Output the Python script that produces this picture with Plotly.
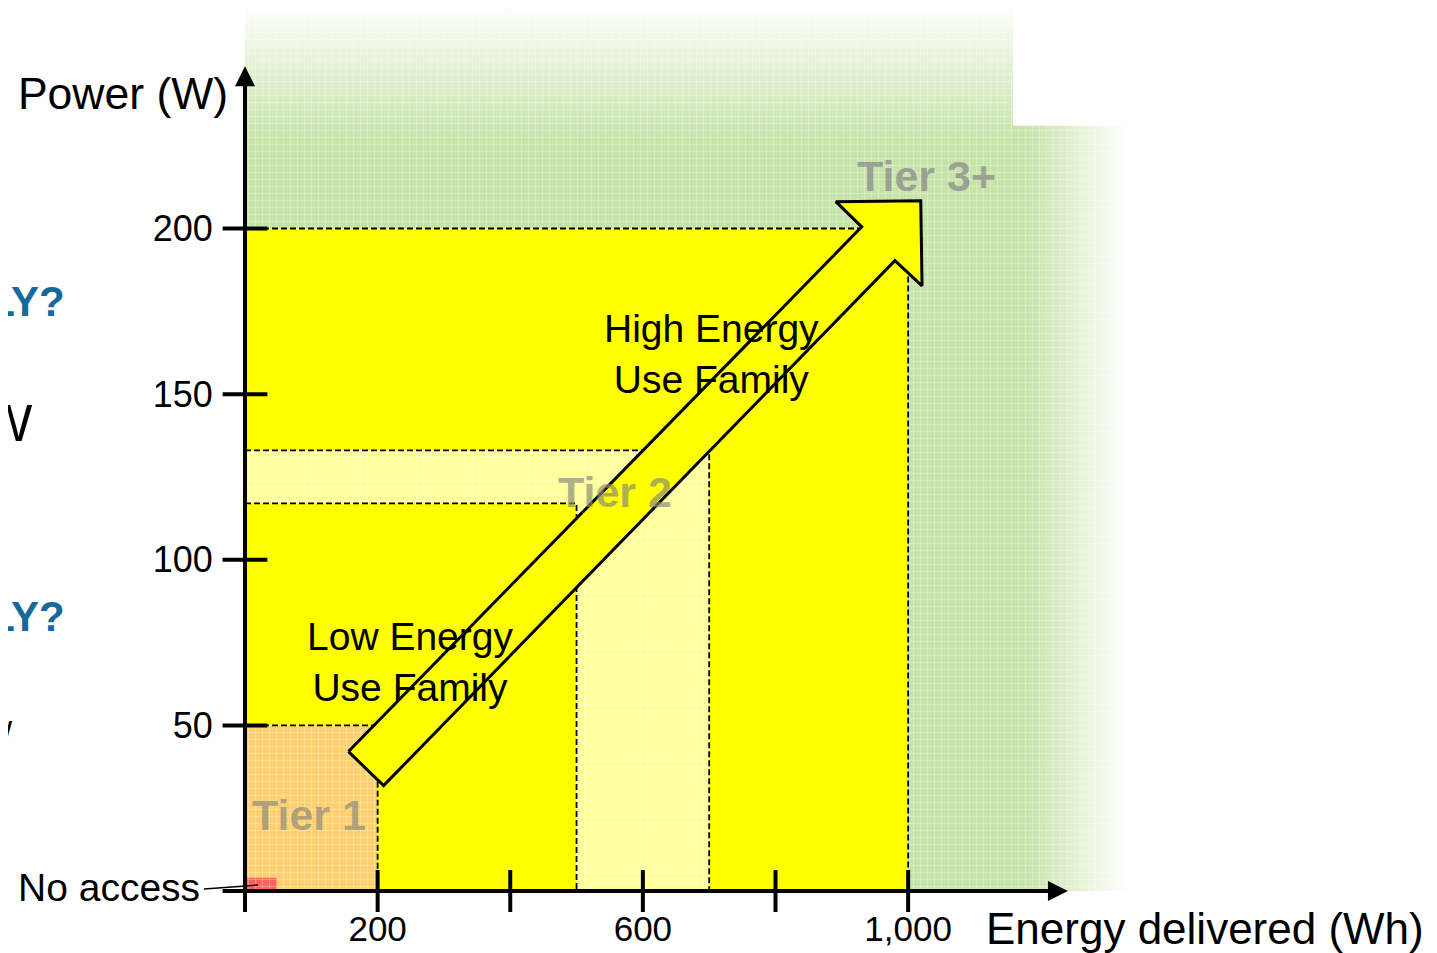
import plotly.graph_objects as go

# ---------------- data ----------------
x_tick_vals = [0, 200, 400, 600, 800, 1000]
x_label_vals = [200, 600, 1000]
x_label_text = ["200", "600", "1,000"]
y_tick_vals = [0, 50, 100, 150, 200]
y_label_vals = [50, 100, 150, 200]
y_label_text = ["50", "100", "150", "200"]

# tier boundaries (energy Wh, power W)
no_access = [48, 4]
tier1 = [200, 50]
tier2_energy = [500, 700]
tier2_power = [117, 133]
tier3 = [1000, 200]
green_extent = [1345, 1158, 231, 268]   # x_max, step x, step y, y_max

# block arrow outline (Wh, W)
arrow_x = [156, 930, 891, 1019, 1021, 980, 209]
arrow_y = [42.1, 200.5, 208.1, 208.4, 182.7, 190.3, 31.8]

FONT = "Liberation Sans, Arial, sans-serif"
X_PER_PX = 1.508
Y_PER_PX = 0.30189
# page offset of the figure inside the browser body
OFF = 8
ML, MB, W, H = 237, 70, 1437, 953
PW, PH = W - ML, H - MB


def paper_x(vx):
    return (vx - OFF - ML) / PW


def paper_y(vy):
    return (H - MB - (vy - OFF)) / PH


def texture(bg):
    return dict(shape="+", fgcolor="white", bgcolor=bg, size=7, solidity=0.14, fgopacity=0.55)


fig = go.Figure()

# green tier 3+ area
gx, gs, gsy, gy = green_extent
fig.add_trace(go.Scatter(
    x=[0, gx, gx, gs, gs, 0, 0], y=[0, 0, gsy, gsy, gy, gy, 0],
    fill="toself", fillcolor="#c6e3a8", fillpattern=texture("#c6e3a8"),
    mode="none", hoverinfo="skip"))
# fades to white
fig.add_trace(go.Scatter(
    x=[0, gs, gs, 0, 0], y=[gsy - 6, gsy - 6, gy + 1, gy + 1, gsy - 6],
    fill="toself", mode="none", hoverinfo="skip",
    fillgradient=dict(type="vertical", start=gsy - 6, stop=gy,
                      colorscale=[[0, "rgba(255,255,255,0)"], [0.6, "rgba(255,255,255,0.55)"],
                                  [1, "rgba(255,255,255,1)"]])))
fig.add_trace(go.Scatter(
    x=[1175, gx + 1, gx + 1, 1175, 1175], y=[0, 0, gsy + 1, gsy + 1, 0],
    fill="toself", mode="none", hoverinfo="skip",
    fillgradient=dict(type="horizontal", start=1175, stop=gx - 15,
                      colorscale=[[0, "rgba(255,255,255,0)"], [1, "rgba(255,255,255,1)"]])))

# yellow up to 1000 Wh / 200 W
fig.add_trace(go.Scatter(
    x=[0, tier3[0], tier3[0], 0, 0], y=[0, 0, tier3[1], tier3[1], 0],
    fill="toself", fillcolor="#ffff00", mode="none", hoverinfo="skip"))
# tier 2 pale band
e0, e1 = tier2_energy
p0, p1 = tier2_power
fig.add_trace(go.Scatter(
    x=[0, 0, e1, e1, e0, e0, 0], y=[p0, p1, p1, 0, 0, p0, p0],
    fill="toself", fillcolor="#ffff9c", fillpattern=texture("#ffff9c"),
    mode="none", hoverinfo="skip"))
# tier 1
fig.add_trace(go.Scatter(
    x=[0, tier1[0], tier1[0], 0, 0], y=[0, 0, tier1[1], tier1[1], 0],
    fill="toself", fillcolor="#ffd070", fillpattern=texture("#ffd070"),
    mode="none", hoverinfo="skip"))
# no access
fig.add_trace(go.Scatter(
    x=[0, no_access[0], no_access[0], 0, 0], y=[0, 0, no_access[1], no_access[1], 0],
    fill="toself", fillcolor="#ff6060", fillpattern=texture("#ff6060"),
    mode="none", hoverinfo="skip"))

# dashed boundaries
dash_style = dict(color="black", width=1.8, dash="6px,3px")
for xs, ys in [
    ([0, tier1[0], tier1[0]], [tier1[1], tier1[1], 0]),
    ([0, e0, e0], [p0, p0, 0]),
    ([0, e1, e1], [p1, p1, 0]),
    ([0, tier3[0], tier3[0]], [tier3[1], tier3[1], 0]),
]:
    fig.add_trace(go.Scatter(x=xs, y=ys, mode="lines", line=dash_style, hoverinfo="skip"))

# block arrow
fig.add_trace(go.Scatter(
    x=arrow_x + [arrow_x[0]], y=arrow_y + [arrow_y[0]],
    fill="toself", fillcolor="#ffff00", mode="lines",
    line=dict(color="black", width=3), hoverinfo="skip"))

# tick marks crossing the axes
fig.add_trace(go.Scatter(
    x=[0] * len(y_tick_vals), y=y_tick_vals, mode="markers", cliponaxis=False,
    marker=dict(symbol="line-ew", size=32, line=dict(color="black", width=4)),
    hoverinfo="skip"))
fig.add_trace(go.Scatter(
    x=x_tick_vals, y=[0] * len(x_tick_vals), mode="markers", cliponaxis=False,
    marker=dict(symbol="line-ns", size=30, line=dict(color="black", width=4)),
    hoverinfo="skip"))

ann = []
# axes with arrow heads
ann.append(dict(x=0, y=249, ax=0, ay=0, xref="x", yref="y", axref="x", ayref="y",
                text="", showarrow=True, arrowhead=2, arrowwidth=4, arrowsize=1,
                arrowcolor="black", standoff=0, startstandoff=0))
ann.append(dict(x=1241, y=0, ax=0, ay=0, xref="x", yref="y", axref="x", ayref="y",
                text="", showarrow=True, arrowhead=2, arrowwidth=4, arrowsize=1,
                arrowcolor="black", standoff=0, startstandoff=0))


def txt(x, y, t, size, color="black", bold=False, xanchor="center", ref="x"):
    if bold:
        t = "<b>" + t + "</b>"
    if ref == "paper":
        xr, yr = "paper", "paper"
    else:
        xr, yr = "x", "y"
    ann.append(dict(x=x, y=y, xref=xr, yref=yr, text=t, showarrow=False,
                    font=dict(family=FONT, size=size, color=color),
                    xanchor=xanchor, yanchor="middle", borderpad=0))


tier_col = "rgba(140,140,120,0.7)"
txt(96, 23, "Tier 1", 43, tier_col, bold=True)
txt(558, 120.5, "Tier 2", 43, tier_col, bold=True)
txt(1028, 216, "Tier 3+", 43, "rgba(140,140,140,0.75)", bold=True)
txt(704, 162, "High Energy<br>Use Family", 39)
txt(249, 69, "Low Energy<br>Use Family", 39)
# texts outside the plotting area (paper coordinates from viewport pixels)
txt(paper_x(201), paper_y(887), "No access", 39, xanchor="right", ref="paper")
txt(paper_x(985), paper_y(928), "Energy delivered (Wh)", 44, xanchor="left", ref="paper")
txt(paper_x(229), paper_y(93), "Electrical Power (W)", 44.5, xanchor="right", ref="paper")
blue = "#17699c"
txt(paper_x(66), paper_y(302), "HIGH ENERGY FAMILY?", 42, blue, bold=True, xanchor="right", ref="paper")
txt(paper_x(66), paper_y(616), "LOW ENERGY FAMILY?", 42, blue, bold=True, xanchor="right", ref="paper")
txt(paper_x(33), paper_y(423), "200 W", 52, xanchor="right", ref="paper")
txt(paper_x(13), paper_y(727), "low", 34, xanchor="right", ref="paper")

fig.update_layout(
    width=W, height=H,
    margin=dict(l=ML, r=0, t=0, b=MB, pad=0),
    paper_bgcolor="white", plot_bgcolor="white",
    showlegend=False,
    annotations=ann,
    shapes=[dict(type="line", xref="paper", yref="paper",
                 x0=paper_x(204), y0=paper_y(889), x1=paper_x(258), y1=paper_y(885),
                 line=dict(color="black", width=1.5), layer="above")],
    xaxis=dict(range=[0, PW * X_PER_PX], showgrid=False, zeroline=False, showline=False,
               tickvals=x_label_vals, ticktext=x_label_text, ticks="outside", ticklen=7,
               tickcolor="rgba(0,0,0,0)", tickfont=dict(family=FONT, size=35, color="black"),
               automargin=False, fixedrange=True),
    yaxis=dict(range=[0, PH * Y_PER_PX], showgrid=False, zeroline=False, showline=False,
               tickvals=y_label_vals, ticktext=y_label_text, ticks="outside", ticklen=24,
               tickcolor="rgba(0,0,0,0)", tickfont=dict(family=FONT, size=36, color="black"),
               automargin=False, fixedrange=True),
)

fig.write_html("out.html")
